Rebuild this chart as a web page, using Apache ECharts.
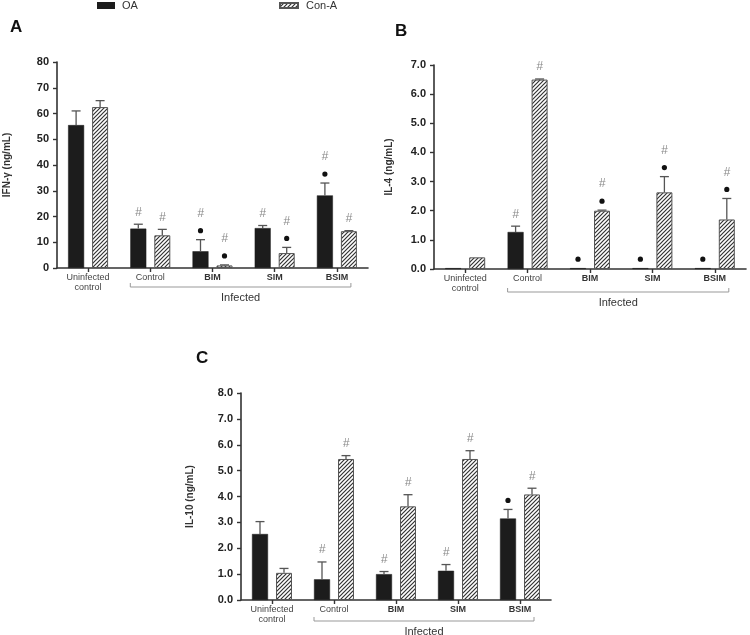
<!DOCTYPE html>
<html><head><meta charset="utf-8">
<script src="https://cdn.jsdelivr.net/npm/echarts@6/dist/echarts.min.js"></script>
<style>html,body{margin:0;padding:0;background:#fff}#c{width:750px;height:635px}</style>
</head><body><div id="c"></div>
<script>
// ---------- data ----------
const categories = ['Uninfected\ncontrol', 'Control', 'BIM', 'SIM', 'BSIM'];
const groupLabel = 'Infected';
const seriesNames = ['OA', 'Con-A'];

// Panel A: IFN-γ (ng/mL)
const ifnOA = [55.5, 15.3, 6.5, 15.5, 28.2];
const ifnOAErr = [61, 17, 11, 16.5, 33];
const ifnConA = [62.5, 12.7, 1.0, 5.8, 14.3];
const ifnConAErr = [65, 15, 1.2, 8, 14.5];
const ifnOAMarks = ['', '#', '•#', '#', '•#'];
const ifnConAMarks = ['', '#', '•#', '•#', '#'];

// Panel B: IL-4 (ng/mL)
const il4OA = [0.03, 1.27, 0.03, 0.03, 0.03];
const il4OAErr = [0.03, 1.47, 0.03, 0.03, 0.03];
const il4ConA = [0.4, 6.5, 2.0, 2.63, 1.7];
const il4ConAErr = [0.4, 6.52, 2.02, 3.17, 2.42];
const il4OAMarks = ['', '#', '•', '•', '•'];
const il4ConAMarks = ['', '#', '•#', '•#', '•#'];

// Panel C: IL-10 (ng/mL)
const il10OA = [2.55, 0.8, 1.0, 1.13, 3.15];
const il10OAErr = [3.03, 1.47, 1.1, 1.37, 3.5];
const il10ConA = [1.05, 5.45, 3.62, 5.45, 4.08];
const il10ConAErr = [1.22, 5.58, 4.07, 5.77, 4.32];
const il10OAMarks = ['', '#', '#', '#', '•'];
const il10ConAMarks = ['', '#', '#', '#', '#'];

const panelLetters = ['A', 'B', 'C'];
const yNames = ['IFN-γ (ng/mL)', 'IL-4 (ng/mL)', 'IL-10 (ng/mL)'];
const yMax = [80, 7, 8];
const yInterval = [10, 1, 1];

// ---------- styles ----------
const FONT = 'Liberation Sans, Arial, sans-serif';
const BAR_W = 16, HALF_OFF = 12;

function hatch() {
  const c = document.createElement('canvas');
  c.width = 4; c.height = 4;
  const g = c.getContext('2d');
  g.fillStyle = '#fff'; g.fillRect(0, 0, 4, 4);
  g.strokeStyle = '#333'; g.lineWidth = 1.2;
  g.beginPath();
  g.moveTo(-1, 5); g.lineTo(5, -1);
  g.moveTo(-1, 1); g.lineTo(1, -1);
  g.moveTo(3, 5); g.lineTo(5, 3);
  g.stroke();
  return c;
}
const hatchFill = { image: hatch(), repeat: 'repeat' };

const grids = [
  { left: 57, top: 62, width: 311, height: 206 },
  { left: 434, top: 65, width: 312, height: 204 },
  { left: 241, top: 393, width: 310, height: 207 }
];
const bracketDy = [19, 23, 21];
const yNameGap = [45, 40, 46];

function xAxis(i) {
  return {
    type: 'category', gridIndex: i, data: categories,
    axisLine: { lineStyle: { color: '#333', width: 1.6 } },
    axisTick: { show: true, alignWithLabel: true, length: 4, lineStyle: { color: '#333', width: 1.4 } },
    axisLabel: {
      interval: 0, margin: 5, fontFamily: FONT, fontSize: 9, color: '#444', lineHeight: 10,
      formatter: (v) => (v === 'BIM' || v === 'SIM' || v === 'BSIM') ? '{b|' + v + '}' : v,
      rich: { b: { fontWeight: 'bold', fontFamily: FONT, fontSize: 9, color: '#333' } }
    }
  };
}
function yAxis(i) {
  return {
    type: 'value', gridIndex: i, min: 0, max: yMax[i], interval: yInterval[i],
    name: yNames[i], nameLocation: 'middle', nameGap: yNameGap[i], nameRotate: 90,
    nameTextStyle: { fontFamily: FONT, fontSize: 10, fontWeight: 'bold', color: '#333' },
    axisLine: { show: true, lineStyle: { color: '#333', width: 1.6 } },
    axisTick: { show: true, length: 4, lineStyle: { color: '#333', width: 1.4 } },
    splitLine: { show: false },
    axisLabel: {
      margin: 8, fontFamily: FONT, fontSize: 11, fontWeight: 'bold', color: '#222',
      formatter: i === 0 ? (v) => String(v) : (v) => v.toFixed(1)
    }
  };
}
function bars(i, name, vals) {
  const oa = name === 'OA';
  return {
    type: 'bar', name, xAxisIndex: i, yAxisIndex: i, data: vals,
    barWidth: BAR_W, barGap: '50%',
    itemStyle: oa ? { color: '#1c1c1c', borderColor: '#1c1c1c', borderWidth: 0.5 }
                  : { color: hatchFill, borderColor: '#555', borderWidth: 1 },
    z: 2
  };
}
function errs(i, vals, tops, marks, sign) {
  return {
    type: 'custom', xAxisIndex: i, yAxisIndex: i, silent: true, z: 5, clip: false,
    data: vals.map((v, k) => [k, v, tops[k]]),
    renderItem(params, api) {
      const k = api.value(0);
      const pB = api.coord([k, api.value(1)]);
      const pT = api.coord([k, api.value(2)]);
      const x = pB[0] + sign * HALF_OFF;
      const ch = [];
      if (pB[1] - pT[1] > 0.5) {
        ch.push({ type: 'line', shape: { x1: x, y1: pB[1], x2: x, y2: pT[1] }, style: { stroke: '#555', lineWidth: 1.3 } });
        ch.push({ type: 'line', shape: { x1: x - 4.5, y1: pT[1], x2: x + 4.5, y2: pT[1] }, style: { stroke: '#555', lineWidth: 1.3 } });
      }
      const m = marks[params.dataIndex];
      const top = Math.min(pT[1], pB[1]);
      const hasDot = m.indexOf('•') >= 0, hasHash = m.indexOf('#') >= 0;
      if (hasDot) ch.push({ type: 'circle', shape: { cx: x, cy: top - 9, r: 2.6 }, style: { fill: '#111' } });
      if (hasHash) ch.push({ type: 'text', style: { text: '#', x: x, y: top - (hasDot ? 26 : 12), align: 'center', verticalAlign: 'middle', font: 'italic 12px ' + FONT, fill: '#8a8a8a' } });
      return { type: 'group', children: ch };
    }
  };
}
function bracket(i) {
  return {
    type: 'custom', xAxisIndex: i, yAxisIndex: i, silent: true, clip: false,
    data: [[1, 4]],
    renderItem(params, api) {
      const a = api.coord([api.value(0), 0]);
      const b = api.coord([api.value(1), 0]);
      const x1 = a[0] - 20, x2 = b[0] + 14, y = a[1] + bracketDy[i];
      return { type: 'group', children: [
        { type: 'polyline', shape: { points: [[x1, y - 4], [x1, y], [x2, y], [x2, y - 4]] }, style: { stroke: '#999', lineWidth: 1, fill: null } },
        { type: 'text', style: { text: groupLabel, x: (x1 + x2) / 2, y: y + 10.5, align: 'center', verticalAlign: 'middle', font: '11px ' + FONT, fill: '#333' } }
      ] };
    }
  };
}

const panels = [
  [ifnOA, ifnOAErr, ifnOAMarks, ifnConA, ifnConAErr, ifnConAMarks],
  [il4OA, il4OAErr, il4OAMarks, il4ConA, il4ConAErr, il4ConAMarks],
  [il10OA, il10OAErr, il10OAMarks, il10ConA, il10ConAErr, il10ConAMarks]
];
const series = [];
panels.forEach((p, i) => {
  series.push(bars(i, seriesNames[0], p[0]));
  series.push(bars(i, seriesNames[1], p[3]));
  series.push(errs(i, p[0], p[1], p[2], -1));
  series.push(errs(i, p[3], p[4], p[5], 1));
  series.push(bracket(i));
});

const letterPos = [[10, 19], [395, 23], [196, 350]];
const chart = echarts.init(document.getElementById('c'), null, { renderer: 'canvas' });
chart.setOption({
  animation: false,
  backgroundColor: '#fff',
  title: panelLetters.map((t, i) => ({ text: t, left: letterPos[i][0], top: letterPos[i][1], padding: 0,
    textStyle: { fontFamily: FONT, fontSize: 17, fontWeight: 'bold', color: '#111' } })),
  legend: [
    { data: [seriesNames[0]], left: 97, top: 0, padding: 0, itemWidth: 16, itemHeight: 5, itemGap: 0,
      textStyle: { fontFamily: FONT, fontSize: 11, color: '#333', padding: [0, 0, 0, 3] }, icon: 'rect', selectedMode: false },
    { data: [seriesNames[1]], left: 279, top: 0, padding: 0, itemWidth: 18, itemHeight: 5, itemGap: 0,
      textStyle: { fontFamily: FONT, fontSize: 11, color: '#333', padding: [0, 0, 0, 3] }, icon: 'rect', selectedMode: false }
  ],
  grid: grids,
  xAxis: [0, 1, 2].map(xAxis),
  yAxis: [0, 1, 2].map(yAxis),
  series
});
</script></body></html>
